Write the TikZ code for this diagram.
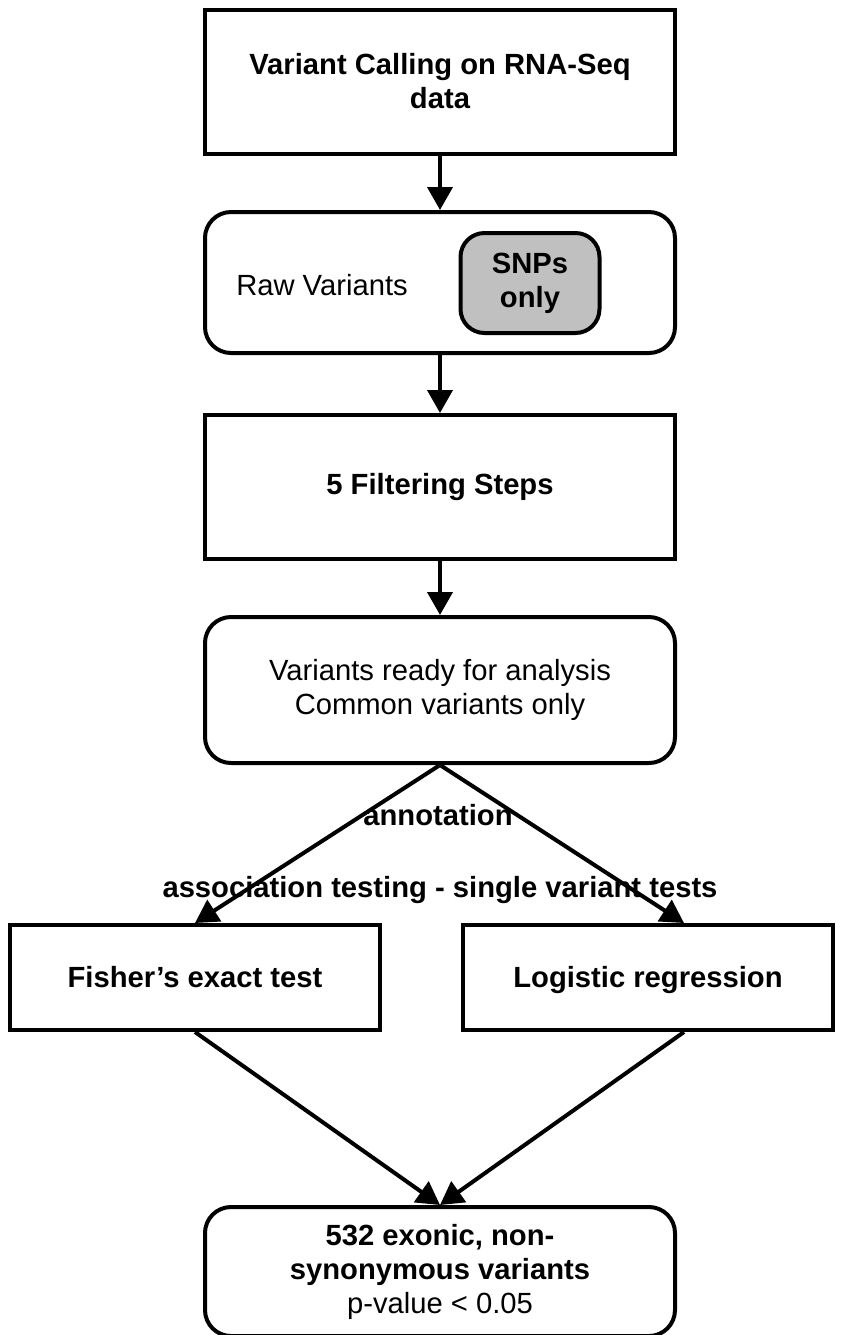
\documentclass[tikz,border=0pt]{standalone}
\usepackage{fontspec}
\setmainfont{Liberation Sans}
\usetikzlibrary{arrows.meta}
\definecolor{snpgray}{RGB}{192,192,192}
\tikzset{
	stepbox/.style={draw, line width=2pt, minimum width=235pt, minimum height=72pt, align=center, inner sep=3pt, font=\bfseries},
	roundbox/.style={stepbox, rounded corners=13pt, font=\normalfont},
	testbox/.style={stepbox, minimum width=185pt, minimum height=52.5pt, text height=1.55ex, text depth=0.25ex},
	flow/.style={-{Triangle[width=12.5pt,length=11.5pt]}, line width=2pt},
	edgetext/.style={font=\bfseries, inner sep=0pt}
}
\begin{document}
\begin{tikzpicture}[x=0.5pt, y=-0.5pt]
	\fontsize{14.6pt}{17pt}\selectfont
	\useasboundingbox (0,0) rectangle (845,1335);
	% main column
	\node[stepbox] (calling) at (440,81.5) {Variant Calling on RNA-Seq\\data};
	\node[roundbox, minimum height=70.5pt] (raw) at (440,282.5) {};
	\node (rawtext) at (322,285) {Raw Variants};
	\node[stepbox, rounded corners=12pt, fill=snpgray, minimum width=69.5pt, minimum height=50pt] (snps) at (530,283) {SNPs\\only};
	\node[stepbox] (filter) at (440,487) {5 Filtering Steps};
	\node[roundbox, minimum height=73pt] (ready) at (440,690) {Variants ready for analysis\\Common variants only};
	% two tests
	\node[testbox] (fisher) at (195,977.5) {Fisher’s exact test};
	\node[testbox] (logit) at (648,977.5) {Logistic regression};
	% result
	\node[roundbox, minimum height=64.5pt] (result) at (440,1271.5) {\textbf{532 exonic, non-}\\\textbf{synonymous variants}\\p-value < 0.05};
	% arrows
	\draw[flow] (calling) -- (raw);
	\draw[flow] (raw) -- (filter);
	\draw[flow] (filter) -- (ready);
	\draw[flow] (ready.south) -- (fisher.north);
	\draw[flow] (ready.south) -- ([xshift=18pt]logit.north);
	\draw[flow] (fisher.south) -- (result.north);
	\draw[flow] ([xshift=18pt]logit.south) -- (result.north);
	% edge labels
	\node[edgetext] (annot) at (438,815) {annotation};
	\node[edgetext] (assoc) at (440,890) {association testing - single variant tests};
\end{tikzpicture}
\end{document}
